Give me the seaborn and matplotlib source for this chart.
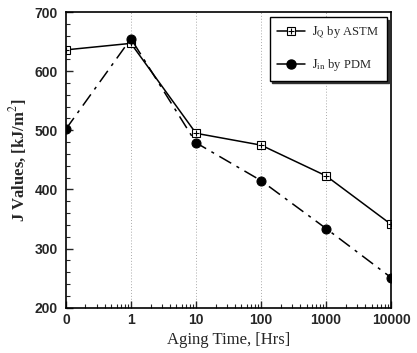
import numpy as np
import pandas as pd
import matplotlib
matplotlib.use('Agg')
import matplotlib.pyplot as plt
import seaborn as sns
from matplotlib.lines import Line2D
from matplotlib.ticker import FixedLocator, LogLocator, MultipleLocator, NullFormatter

# data; "0" hours sits one decade below 1 on the log axis
hours = [0.1, 1, 10, 100, 1000, 10000]
tick_labels = ['0', '1', '10', '100', '1000', '10000']
jq_astm = [636, 647, 495, 475, 423, 341]
jin_pdm = [502, 655, 479, 415, 334, 251]

sns.set_style('ticks')
plt.rcParams['font.family'] = ['Liberation Sans', 'DejaVu Sans']
plt.rcParams['mathtext.fontset'] = 'stix'

fig = plt.figure(figsize=(4.17, 3.53), dpi=100)
ax = fig.add_axes([0.158, 0.128, 0.78, 0.838])

df = pd.DataFrame({'hours': hours, 'astm': jq_astm, 'pdm': jin_pdm})

sns.lineplot(data=df, x='hours', y='astm', ax=ax, color='black', lw=1.1,
             marker='s', markersize=5.5, markerfacecolor='white',
             markeredgecolor='black', markeredgewidth=0.8)
sns.scatterplot(data=df, x='hours', y='astm', ax=ax, marker='+', s=25,
                color='black', linewidth=0.8, zorder=5)
sns.lineplot(data=df, x='hours', y='pdm', ax=ax, color='black', lw=1.1,
             marker='o', markersize=6.5, markeredgecolor='black',
             dashes=False)
ax.lines[-1].set_dashes([9, 4, 2, 4])

ax.set_xscale('log')
ax.set_xlim(0.1, 10000)
ax.set_ylim(200, 700)
ax.xaxis.set_major_locator(FixedLocator(hours))
ax.set_xticks(hours)
ax.set_xticklabels(tick_labels)
ax.xaxis.set_minor_locator(LogLocator(base=10, subs=np.arange(2, 10)))
ax.xaxis.set_minor_formatter(NullFormatter())
ax.yaxis.set_major_locator(MultipleLocator(100))
ax.yaxis.set_minor_locator(MultipleLocator(20))

ax.tick_params(which='both', direction='in', top=False, right=False)
ax.tick_params(which='major', length=5, width=1, labelsize=10)
ax.tick_params(axis='x', which='major', pad=4)
ax.tick_params(axis='y', which='major', pad=6)
ax.tick_params(which='minor', length=3, width=0.8)
for lab in ax.get_xticklabels() + ax.get_yticklabels():
    lab.set_fontweight('bold')

for x in hours[1:-1]:
    ax.axvline(x, color='#aaaaaa', lw=0.7, ls=(0, (1, 2)), zorder=0)

for sp in ax.spines.values():
    sp.set_visible(True)
    sp.set_linewidth(1.2)
    sp.set_color('black')

ax.set_xlabel('Aging Time, [Hrs]', family=['Liberation Serif'], fontsize=12, labelpad=3)
ax.set_ylabel('J Values, [kJ/m$^2$]', family=['Liberation Serif'], fontsize=12,
              fontweight='bold', labelpad=4)

h_astm = (Line2D([], [], color='black', lw=1.1, marker='s', markersize=5.5,
                 markerfacecolor='white', markeredgewidth=0.8),
          Line2D([], [], color='black', lw=0, marker='+', markersize=5,
                 markeredgewidth=0.8))
h_pdm = Line2D([], [], color='black', lw=1.1, marker='o', markersize=6.5)
leg = ax.legend([h_astm, h_pdm],
                [r'$\mathrm{J}_{\mathrm{Q}}$ by ASTM', r'$\mathrm{J}_{\mathrm{in}}$ by PDM'],
                loc='upper right', bbox_to_anchor=(1.005, 1.005),
                fancybox=False, shadow={'color': '#333333', 'alpha': 1.0},
                frameon=True, edgecolor='black', framealpha=1,
                handlelength=2.2, labelspacing=1.3, handletextpad=0.6,
                borderpad=0.6, prop={'family': 'Liberation Serif', 'size': 9})
leg.get_frame().set_linewidth(1.0)

fig.savefig('out.png', dpi=100)
